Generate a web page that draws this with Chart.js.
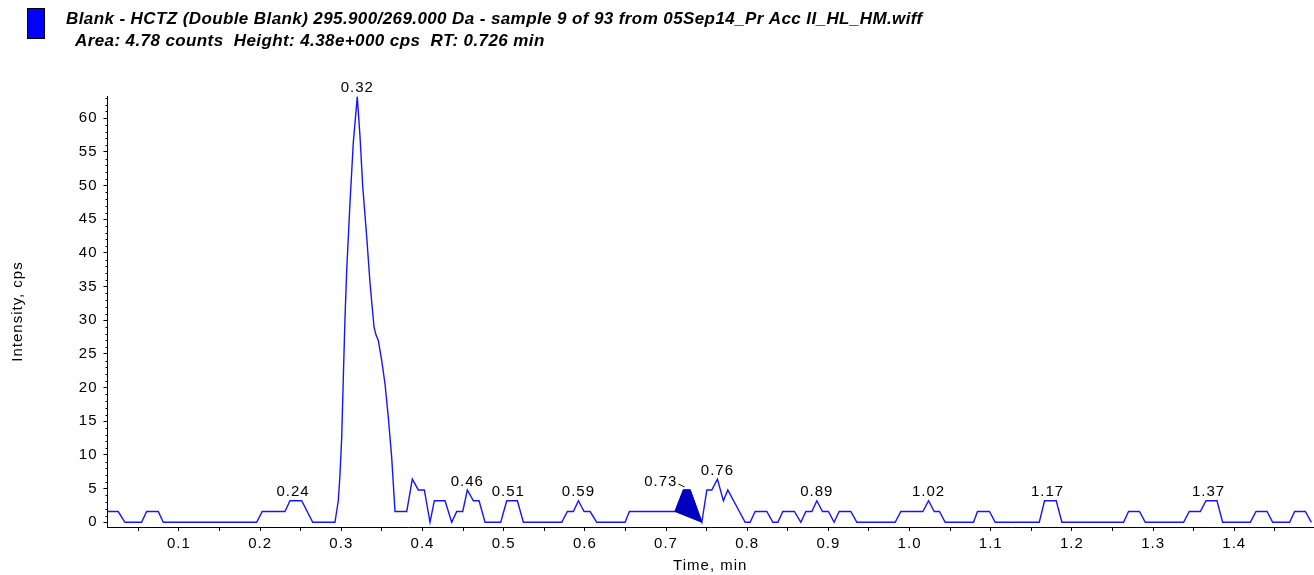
<!DOCTYPE html>
<html>
<head>
<meta charset="utf-8">
<title>Blank - HCTZ (Double Blank)</title>
<script src="https://cdn.jsdelivr.net/npm/chart.js@4.4.1/dist/chart.umd.min.js"></script>
<style>
  html, body { margin: 0; padding: 0; background: #fff; }
  canvas { display: block; }
</style>
</head>
<body>
<canvas id="xicChart" width="1314" height="575"></canvas>
<script>
var titleLine1 = 'Blank - HCTZ (Double Blank) 295.900/269.000 Da - sample 9 of 93 from 05Sep14_Pr Acc II_HL_HM.wiff'
var titleLine2 = 'Area: 4.78 counts  Height: 4.38e+000 cps  RT: 0.726 min'

// trace corner points, time (min) / intensity (cps)
var traceTimes = [
    0.012, 0.0252, 0.0335, 0.0540, 0.0602, 0.0745, 0.0807, 0.1957, 0.2026, 0.2306,
    0.2368, 0.2512, 0.2648, 0.2922, 0.2963, 0.2984, 0.3005, 0.3025, 0.3046, 0.3067,
    0.3107, 0.3148, 0.3197, 0.3230, 0.3264, 0.3313, 0.3354, 0.3403, 0.3428, 0.3456,
    0.3498, 0.3539, 0.3579, 0.3621, 0.3662, 0.3806, 0.3875, 0.3949, 0.4023, 0.4093,
    0.4146, 0.4278, 0.4360, 0.4422, 0.4496, 0.4553, 0.4627, 0.4697, 0.4771, 0.4964,
    0.5038, 0.5169, 0.5243, 0.5716, 0.5785, 0.5859, 0.5921, 0.5991, 0.6065, 0.6147,
    0.6496, 0.6549, 0.7112, 0.7215, 0.7297, 0.7441, 0.7503, 0.7564, 0.7633, 0.7707,
    0.7761, 0.7975, 0.8036, 0.8098, 0.8242, 0.8316, 0.8378, 0.8439, 0.8582, 0.8661,
    0.8723, 0.8797, 0.8858, 0.8927, 0.9001, 0.9071, 0.9133, 0.9277, 0.9351, 0.9823,
    0.9893, 1.0164, 1.0234, 1.0304, 1.0369, 1.0439, 1.0788, 1.0837, 1.0985, 1.1055,
    1.1598, 1.1663, 1.1807, 1.1877, 1.2636, 1.2698, 1.2833, 1.2904, 1.3376, 1.3446,
    1.3582, 1.3652, 1.3787, 1.3857, 1.4198, 1.4268, 1.4404, 1.4473, 1.4682, 1.4744,
    1.4876, 1.4950
]
var traceValues = [
    1.6, 1.6, 0, 0, 1.6, 1.6, 0, 0, 1.6, 1.6,
    3.2, 3.2, 0, 0, 3.2, 7.1, 12.6, 21.5, 30.5, 37.5,
    47.4, 56.4, 63.2, 57.4, 49.9, 42.4, 35.5, 29.0, 27.8, 27.0,
    24.0, 20.5, 15.6, 9.6, 1.6, 1.6, 6.4, 4.8, 4.8, 0,
    3.2, 3.2, 0, 1.6, 1.6, 4.8, 3.2, 3.2, 0, 0,
    3.2, 3.2, 0, 0, 1.6, 1.6, 3.2, 1.6, 1.6, 0,
    0, 1.6, 1.6, 4.8, 4.8, 0, 4.8, 4.8, 6.4, 3.2,
    4.8, 0, 0, 1.6, 1.6, 0, 0, 1.6, 1.6, 0,
    1.6, 1.6, 3.2, 1.6, 1.6, 0, 1.6, 1.6, 0, 0,
    1.6, 1.6, 3.2, 1.6, 1.6, 0, 0, 1.6, 1.6, 0,
    0, 3.2, 3.2, 0, 0, 1.6, 1.6, 0, 0, 1.6,
    1.6, 3.2, 3.2, 0, 0, 1.6, 1.6, 0, 0, 1.6,
    1.6, 0
]

// integrated peak (RT 0.726), closed back along its baseline
var areaTimes = [0.7112, 0.7215, 0.7297, 0.7441, 0.7112]
var areaValues = [1.6, 4.8, 4.8, 0, 1.6]

var peakLabels = ['0.24', '0.32', '0.46', '0.51', '0.59', '0.73', '0.76', '0.89', '1.02', '1.17', '1.37']
var peakTimes = [0.2405, 0.3197, 0.4553, 0.5058, 0.5921, 0.7215, 0.7633, 0.8858, 1.0234, 1.1700, 1.3684]
var peakValues = [3.2, 63.2, 4.8, 3.2, 3.2, 4.8, 6.4, 3.2, 3.2, 3.2, 3.2]
var leaderLabel = '0.73'

var xMajorTicks = [0.1, 0.2, 0.3, 0.4, 0.5, 0.6, 0.7, 0.8, 0.9, 1.0, 1.1, 1.2, 1.3, 1.4]
var xMinorTicks = [0.05, 0.15, 0.25, 0.35, 0.45, 0.55, 0.65, 0.75, 0.85, 0.95, 1.05, 1.15, 1.25, 1.35, 1.45]
var yMajorTicks = [0, 5, 10, 15, 20, 25, 30, 35, 40, 45, 50, 55, 60]

var FONT = '"Liberation Sans", Arial, sans-serif'

function toPoints(xs, ys) {
    return xs.map(function (t, i) { return { x: t, y: ys[i] } })
}

function isMajorX(v) {
    return Math.abs(v * 10 - Math.round(v * 10)) < 1e-6
}

var chartDecor = {
    id: 'chartDecor',
    beforeUpdate: function (chart) {
        chart.ctx.letterSpacing = '1px'
    },
    beforeDraw: function (chart) {
        var ctx = chart.ctx
        ctx.letterSpacing = '1px'
        ctx.save()
        // legend swatch
        ctx.fillStyle = '#0000ff'
        ctx.fillRect(27, 8, 18, 31)
        ctx.strokeStyle = '#000'
        ctx.lineWidth = 1
        ctx.strokeRect(27.5, 8.5, 17, 30)
        // header
        ctx.letterSpacing = '0.4px'
        ctx.fillStyle = '#000'
        ctx.font = 'italic bold 17px ' + FONT
        ctx.textBaseline = 'middle'
        ctx.textAlign = 'left'
        ctx.fillText(titleLine1, 66, 19)
        ctx.fillText(titleLine2, 75, 41)
        ctx.restore()
    },
    afterDatasetsDraw: function (chart) {
        var ctx = chart.ctx
        var xs = chart.scales.x
        var ys = chart.scales.y
        ctx.save()
        ctx.letterSpacing = '1px'
        ctx.font = '15px ' + FONT
        ctx.fillStyle = '#000'
        ctx.strokeStyle = '#000'
        ctx.lineWidth = 1
        ctx.textBaseline = 'bottom'
        for (var i = 0; i < peakLabels.length; i++) {
            var px = xs.getPixelForValue(peakTimes[i])
            var py = ys.getPixelForValue(peakValues[i])
            if (peakLabels[i] === leaderLabel) {
                ctx.textAlign = 'right'
                ctx.fillText(peakLabels[i], px - 6, py - 1)
                ctx.beginPath()
                ctx.moveTo(px - 5, py - 6)
                ctx.lineTo(px + 1, py - 3)
                ctx.stroke()
            } else {
                ctx.textAlign = 'center'
                ctx.fillText(peakLabels[i], px, py - 1)
            }
        }
        ctx.restore()
    },
    afterDraw: function (chart) {
        // minor ticks on the intensity axis
        var ctx = chart.ctx
        var ys = chart.scales.y
        var left = chart.chartArea.left
        ctx.save()
        ctx.strokeStyle = '#000'
        ctx.lineWidth = 1
        ctx.beginPath()
        for (var v = 1; v <= ys.max; v++) {
            if (v % 5 === 0) continue
            var py = Math.round(ys.getPixelForValue(v)) + 0.5
            ctx.moveTo(left - 2, py)
            ctx.lineTo(left, py)
        }
        ctx.stroke()
        ctx.restore()
    }
}

var data = {
    datasets: [
        {
            label: 'Area',
            data: toPoints(areaTimes, areaValues),
            borderColor: '#0000c0',
            backgroundColor: '#0000c0',
            borderWidth: 1,
            pointRadius: 0,
            fill: 'shape',
            tension: 0,
        },
        {
            label: 'XIC',
            data: toPoints(traceTimes, traceValues),
            borderColor: '#1414ff',
            borderWidth: 1.4,
            pointRadius: 0,
            fill: false,
            tension: 0,
        },
    ],
}

var config = {
    type: 'line',
    data: data,
    options: {
        responsive: false,
        animation: false,
        events: [],
        layout: { padding: { top: 96, right: 1, left: 0, bottom: 0 } },
        plugins: {
            legend: { display: false },
            tooltip: { enabled: false },
        },
        scales: {
            x: {
                type: 'linear',
                min: 0.012,
                max: 1.497,
                afterBuildTicks: function (scale) {
                    scale.ticks = xMajorTicks.concat(xMinorTicks)
                        .sort(function (a, b) { return a - b })
                        .map(function (v) { return { value: v } })
                },
                afterFit: function (scale) { scale.height = 48 },
                border: { display: true, color: '#000', width: 1 },
                grid: { display: true, drawOnChartArea: false, drawTicks: true, tickLength: 4, color: '#000' },
                ticks: {
                    color: '#000',
                    font: { family: FONT, size: 15 },
                    padding: 4,
                    maxRotation: 0,
                    autoSkip: false,
                    callback: function (value) { return isMajorX(value) ? value.toFixed(1) : '' },
                },
                title: {
                    display: true,
                    text: 'Time, min',
                    color: '#000',
                    font: { family: FONT, size: 15 },
                    padding: { top: 1, bottom: 0 },
                },
            },
            y: {
                type: 'linear',
                min: -0.7,
                max: 63.3,
                afterBuildTicks: function (scale) {
                    scale.ticks = yMajorTicks.map(function (v) { return { value: v } })
                },
                afterFit: function (scale) { scale.width = 107.5 },
                border: { display: true, color: '#000', width: 1 },
                grid: { display: true, drawOnChartArea: false, drawTicks: true, tickLength: 4, color: '#000' },
                ticks: {
                    color: '#000',
                    font: { family: FONT, size: 15 },
                    padding: 6,
                    autoSkip: false,
                },
                title: {
                    display: true,
                    text: 'Intensity, cps',
                    color: '#000',
                    font: { family: FONT, size: 15 },
                    padding: { top: 9, bottom: 0 },
                },
            },
        },
    },
    plugins: [chartDecor],
}

var canvas = document.getElementById('xicChart')
var chart = new Chart(canvas, config)
</script>
</body>
</html>
